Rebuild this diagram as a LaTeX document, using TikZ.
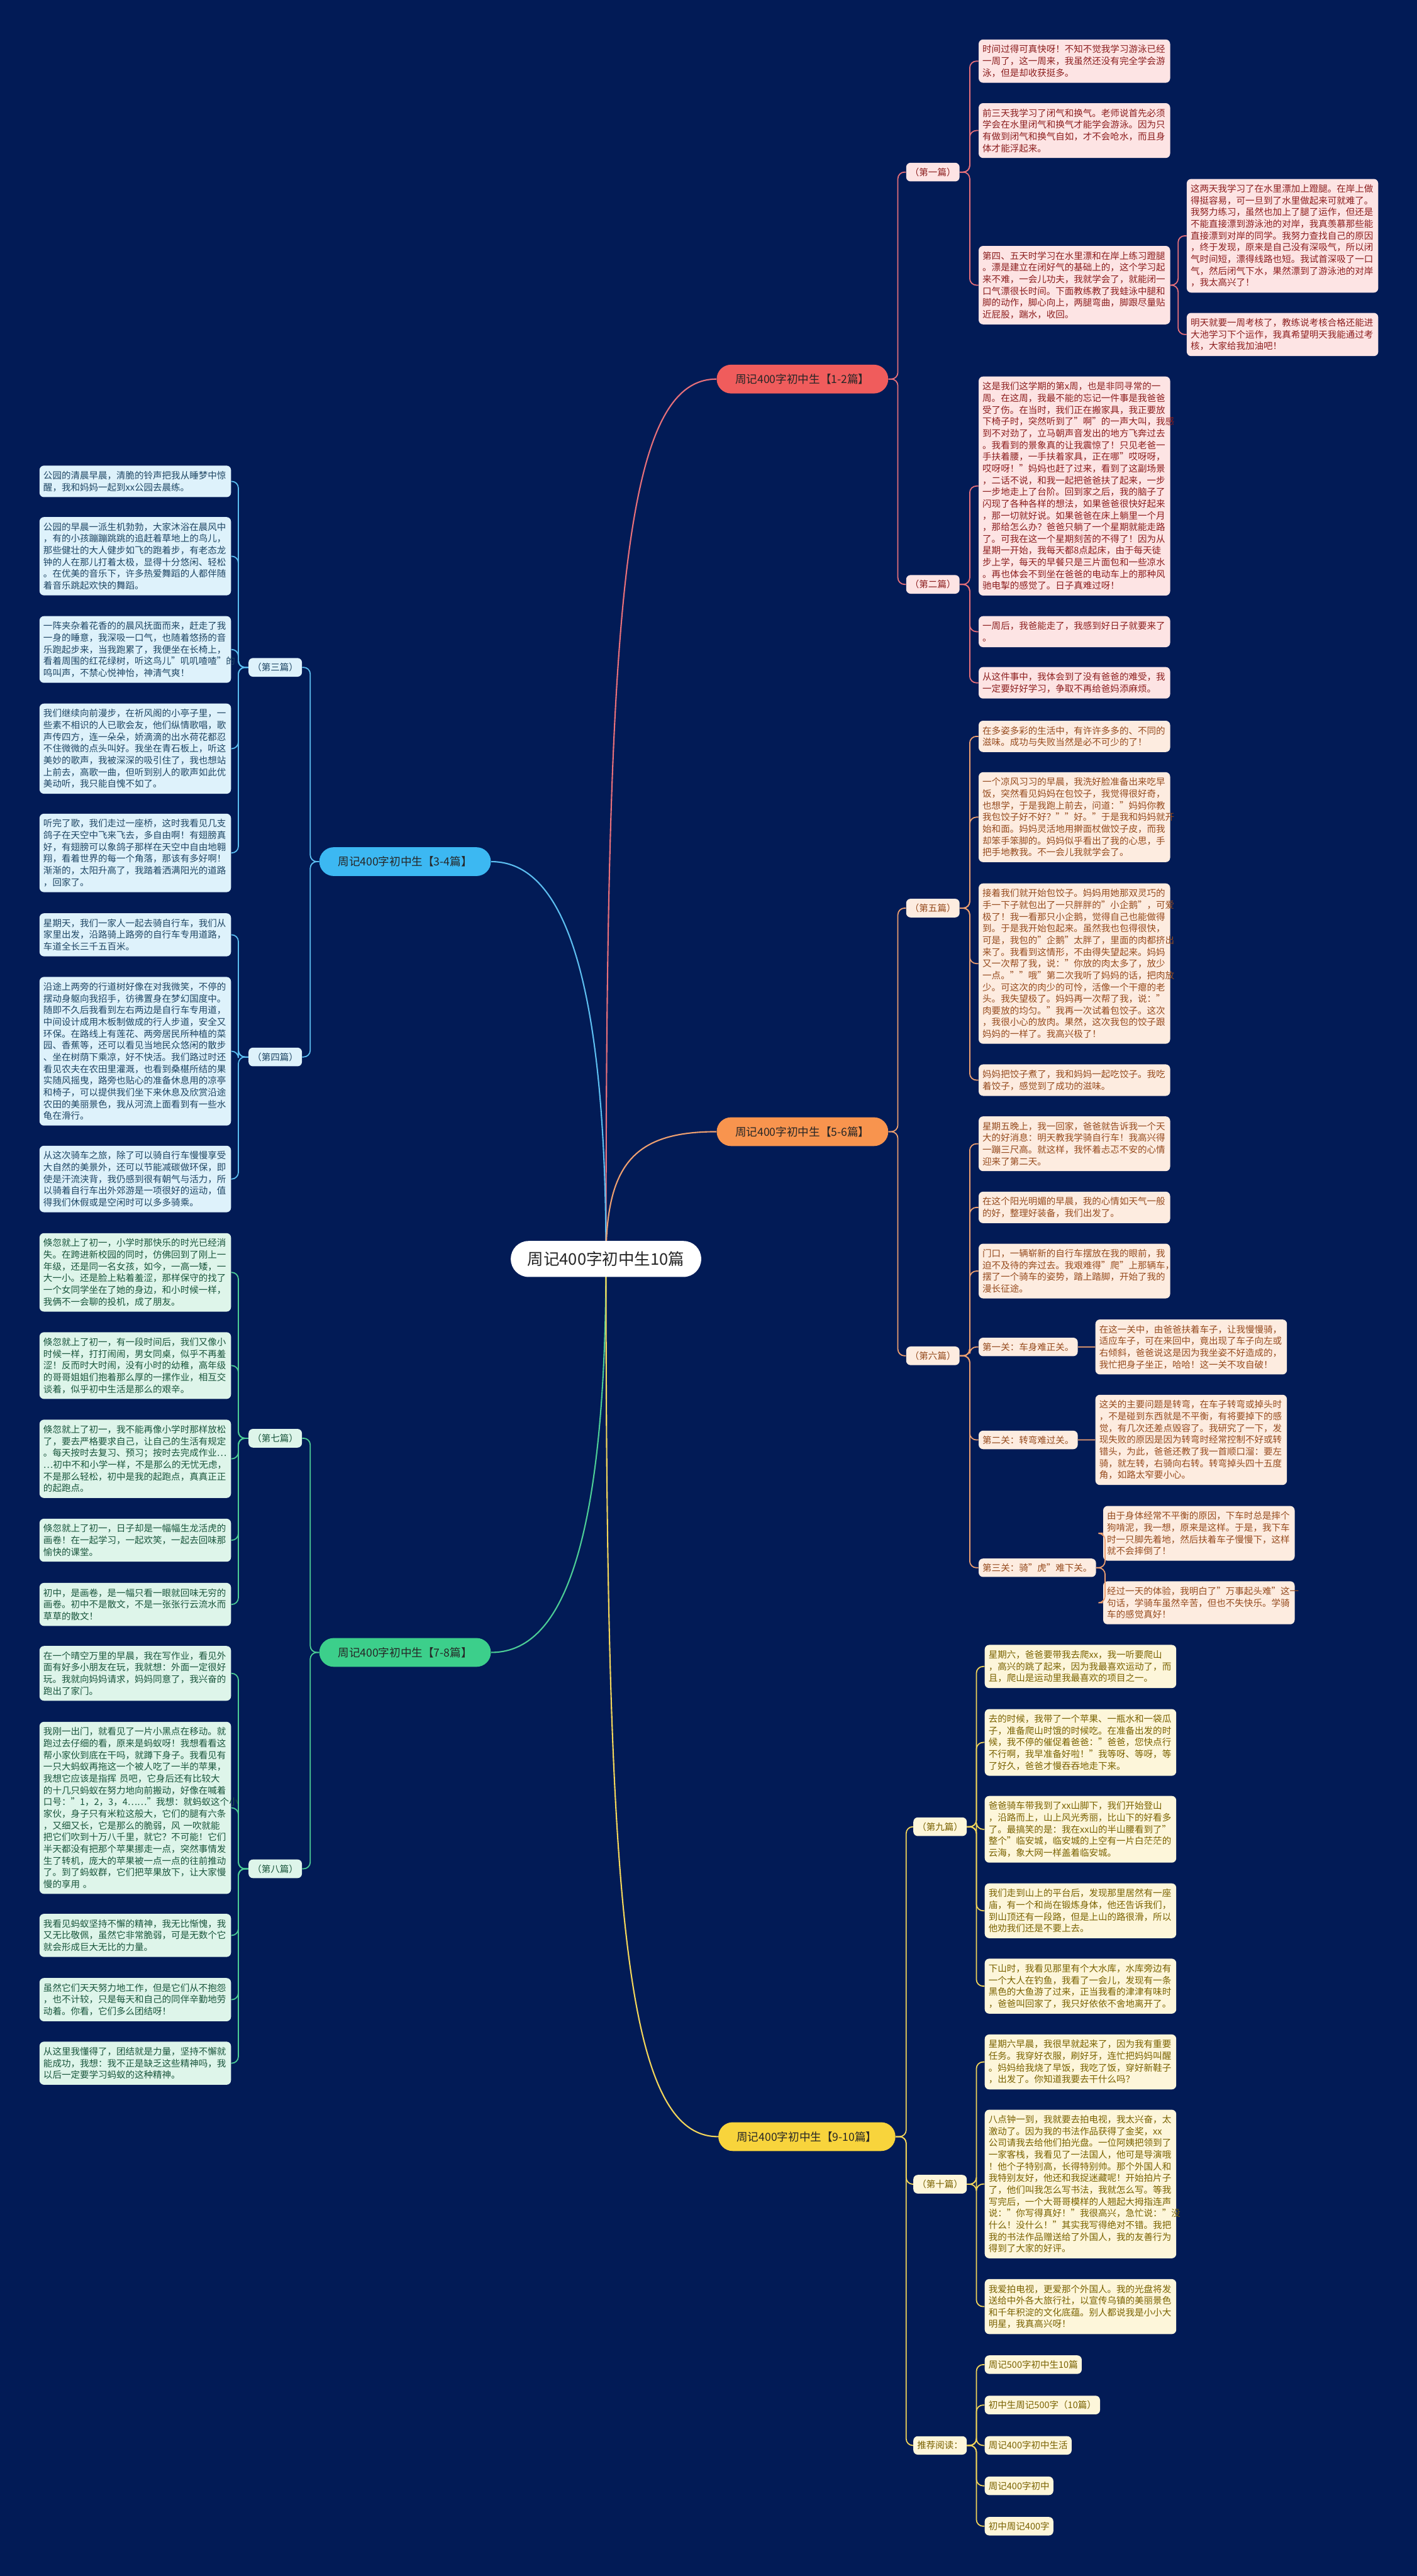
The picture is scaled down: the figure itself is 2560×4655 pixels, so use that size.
\documentclass[tikz,border=0pt]{standalone}
\usepackage{fontspec}
\setmainfont{Noto Sans CJK SC}

\definecolor{bgnavy}{RGB}{2,27,86}
% red 1-2
\definecolor{cR}{RGB}{240,92,92}
\definecolor{lR}{RGB}{232,112,122}
\definecolor{fR}{RGB}{253,228,228}
\definecolor{tR}{RGB}{140,30,30}
% orange 5-6
\definecolor{cO}{RGB}{248,148,78}
\definecolor{lO}{RGB}{238,160,112}
\definecolor{fO}{RGB}{253,236,224}
\definecolor{tO}{RGB}{150,75,30}
% yellow 9-10
\definecolor{cY}{RGB}{248,212,60}
\definecolor{lY}{RGB}{243,214,90}
\definecolor{fY}{RGB}{253,246,218}
\definecolor{tY}{RGB}{122,98,0}
% blue 3-4
\definecolor{cB}{RGB}{60,184,242}
\definecolor{lB}{RGB}{92,190,240}
\definecolor{fB}{RGB}{222,242,251}
\definecolor{tB}{RGB}{30,70,100}
% green 7-8
\definecolor{cG}{RGB}{60,207,139}
\definecolor{lG}{RGB}{76,205,150}
\definecolor{fG}{RGB}{222,245,234}
\definecolor{tG}{RGB}{25,85,60}

\begin{document}
\begin{tikzpicture}[x=0.5pt,y=-0.5pt,
    note/.style={rounded corners=4pt, inner xsep=3.5pt, inner ysep=5pt, align=left, anchor=north west,
        font=\fontsize{8.25}{10.6}\selectfont},
    notew/.style={note, text width=166pt},
    sec/.style={rounded corners=4pt, inner xsep=3.5pt, inner ysep=4.5pt, font=\fontsize{8.25}{10.6}\selectfont},
    branch/.style={rounded corners=13pt, minimum width=155pt, minimum height=26pt, text=black!85,
        font=\fontsize{10}{12}\selectfont},
    link/.style={line width=1pt, rounded corners=6pt},
    nR/.style={fill=fR, text=tR}, nO/.style={fill=fO, text=tO}, nY/.style={fill=fY, text=tY},
    nB/.style={fill=fB, text=tB}, nG/.style={fill=fG, text=tG}]
    \useasboundingbox (0,0) rectangle (2560,4655);
    \fill[bgnavy] (0,0) rectangle (2560,4655);
    %
    %branches
    \coordinate (rc) at (1095,2275);
    \node[branch, fill=cR] (b12) at (1450,685) {周记400字初中生【1-2篇】};
    \node[branch, fill=cB] (b34) at (732,1557) {周记400字初中生【3-4篇】};
    \node[branch, fill=cO] (b56) at (1450,2045) {周记400字初中生【5-6篇】};
    \node[branch, fill=cG] (b78) at (732,2986) {周记400字初中生【7-8篇】};
    \node[branch, fill=cY, minimum width=160pt] (b910) at (1458,3861) {周记400字初中生【9-10篇】};
    \draw[lR, line width=1.2pt] (rc) .. controls +(0,-1170) and +(-170,0) .. (b12.west);
    \draw[lB, line width=1.2pt] (rc) .. controls +(0,-600) and +(100,0) .. (b34.east);
    \draw[lO, line width=1.2pt] (rc) .. controls +(0,-170) and +(-150,0) .. (b56.west);
    \draw[lG, line width=1.2pt] (rc) .. controls +(0,600) and +(100,0) .. (b78.east);
    \draw[lY, line width=1.2pt] (rc) .. controls +(0,1170) and +(-170,0) .. (b910.west);
    %root
    \node[fill=white, rounded corners=16pt, minimum width=172pt, minimum height=32.5pt, text=black!85,
        font=\fontsize{14.5}{16}\selectfont] (root) at (rc) {周记400字初中生10篇};
    %
    %第一篇
    \node[sec, nR, anchor=west] (s1) at (1637,311) {（第一篇）};
    \node[notew, nR] (n1a) at (1768,71) {时间过得可真快呀！不知不觉我学习游泳已经\\一周了，这一周来，我虽然还没有完全学会游\\泳，但是却收获挺多。};
    \node[notew, nR] (n1b) at (1768,186) {前三天我学习了闭气和换气。老师说首先必须\\学会在水里闭气和换气才能学会游泳。因为只\\有做到闭气和换气自如，才不会呛水，而且身\\体才能浮起来。};
    \node[notew, nR] (n1c) at (1768,444) {第四、五天时学习在水里漂和在岸上练习蹬腿\\。漂是建立在闭好气的基础上的，这个学习起\\来不难，一会儿功夫，我就学会了，就能闭一\\口气漂很长时间。下面教练教了我蛙泳中腿和\\脚的动作，脚心向上，两腿弯曲，脚跟尽量贴\\近屁股，踹水，收回。};
    \node[notew, nR] (n1c1) at (2144,323) {这两天我学习了在水里漂加上蹬腿。在岸上做\\得挺容易，可一旦到了水里做起来可就难了。\\我努力练习，虽然也加上了腿了运作，但还是\\不能直接漂到游泳池的对岸，我真羡慕那些能\\直接漂到对岸的同学。我努力查找自己的原因\\，终于发现，原来是自己没有深吸气，所以闭\\气时间短，漂得线路也短。我试首深吸了一口\\气，然后闭气下水，果然漂到了游泳池的对岸\\，我太高兴了！};
    \node[notew, nR] (n1c2) at (2144,565) {明天就要一周考核了，教练说考核合格还能进\\大池学习下个运作，我真希望明天我能通过考\\核，大家给我加油吧！};
    %第二篇
    \node[sec, nR, anchor=west] (s2) at (1637,1056) {（第二篇）};
    \node[notew, nR] (n2a) at (1768,680) {这是我们这学期的第x周，也是非同寻常的一\\周。在这周，我最不能的忘记一件事是我爸爸\\受了伤。在当时，我们正在搬家具，我正要放\\下椅子时，突然听到了"啊"的一声大叫，我感\\到不对劲了，立马朝声音发出的地方飞奔过去\\。我看到的景象真的让我震惊了！只见老爸一\\手扶着腰，一手扶着家具，正在哪"哎呀呀，\\哎呀呀！"妈妈也赶了过来，看到了这副场景\\，二话不说，和我一起把爸爸扶了起来，一步\\一步地走上了台阶。回到家之后，我的脑子了\\闪现了各种各样的想法，如果爸爸很快好起来\\，那一切就好说。如果爸爸在床上躺里一个月\\，那给怎么办？爸爸只躺了一个星期就能走路\\了。可我在这一个星期刻苦的不得了！因为从\\星期一开始，我每天都8点起床，由于每天徒\\步上学，每天的早餐只是三片面包和一些凉水\\。再也体会不到坐在爸爸的电动车上的那种风\\驰电掣的感觉了。日子真难过呀！};
    \node[notew, nR] (n2b) at (1768,1113) {一周后，我爸能走了，我感到好日子就要来了\\。};
    \node[notew, nR] (n2c) at (1768,1205) {从这件事中，我体会到了没有爸爸的难受，我\\一定要好好学习，争取不再给爸妈添麻烦。};
    \draw[link, lR] (b12.east) -- ++(17,0) |- (s1.west);
    \draw[link, lR] (b12.east) -- ++(17,0) |- (s2.west);
    \foreach \c in {n1a,n1b,n1c} \draw[link, lR] (s1.east) -- ++(18,0) |- (\c.west);
    \foreach \c in {n1c1,n1c2} \draw[link, lR] (n1c.east) -- ++(14,0) |- (\c.west);
    \foreach \c in {n2a,n2b,n2c} \draw[link, lR] (s2.east) -- ++(18,0) |- (\c.west);
    %
    %第五篇
    \node[sec, nO, anchor=west] (s5) at (1637,1641) {（第五篇）};
    \node[notew, nO] (n5a) at (1768,1302) {在多姿多彩的生活中，有许许多多的、不同的\\滋味。成功与失败当然是必不可少的了！};
    \node[notew, nO] (n5b) at (1768,1395) {一个凉风习习的早晨，我洗好脸准备出来吃早\\饭，突然看见妈妈在包饺子，我觉得很好奇，\\也想学，于是我跑上前去，问道："妈妈你教\\我包饺子好不好？""好。"于是我和妈妈就开\\始和面。妈妈灵活地用擀面杖做饺子皮，而我\\却笨手笨脚的。妈妈似乎看出了我的心思，手\\把手地教我。不一会儿我就学会了。};
    \node[notew, nO] (n5c) at (1768,1596) {接着我们就开始包饺子。妈妈用她那双灵巧的\\手一下子就包出了一只胖胖的"小企鹅"，可爱\\极了！我一看那只小企鹅，觉得自己也能做得\\到。于是我开始包起来。虽然我也包得很快，\\可是，我包的"企鹅"太胖了，里面的肉都挤出\\来了。我看到这情形，不由得失望起来。妈妈\\又一次帮了我，说："你放的肉太多了，放少\\一点。""哦"第二次我听了妈妈的话，把肉放\\少。可这次的肉少的可怜，活像一个干瘪的老\\头。我失望极了。妈妈再一次帮了我，说："\\肉要放的均匀。"我再一次试着包饺子。这次\\，我很小心的放肉。果然，这次我包的饺子跟\\妈妈的一样了。我高兴极了！};
    \node[notew, nO] (n5d) at (1768,1923) {妈妈把饺子煮了，我和妈妈一起吃饺子。我吃\\着饺子，感觉到了成功的滋味。};
    %第六篇
    \node[sec, nO, anchor=west] (s6) at (1637,2450) {（第六篇）};
    \node[notew, nO] (n6a) at (1768,2017) {星期五晚上，我一回家，爸爸就告诉我一个天\\大的好消息：明天教我学骑自行车！我高兴得\\一蹦三尺高。就这样，我怀着忐忑不安的心情\\迎来了第二天。};
    \node[notew, nO] (n6b) at (1768,2153) {在这个阳光明媚的早晨，我的心情如天气一般\\的好，整理好装备，我们出发了。};
    \node[notew, nO] (n6c) at (1768,2247) {门口，一辆崭新的自行车摆放在我的眼前，我\\迫不及待的奔过去。我艰难得"爬"上那辆车，\\摆了一个骑车的姿势，踏上踏脚，开始了我的\\漫长征途。};
    \node[sec, nO, anchor=west] (n6d) at (1768,2434) {第一关：车身难正关。};
    \node[notew, nO] (n6d1) at (1979,2384) {在这一关中，由爸爸扶着车子，让我慢慢骑，\\适应车子，可在来回中，竟出现了车子向左或\\右倾斜，爸爸说这是因为我坐姿不好造成的，\\我忙把身子坐正，哈哈！这一关不攻自破！};
    \node[sec, nO, anchor=west] (n6e) at (1768,2602) {第二关：转弯难过关。};
    \node[notew, nO] (n6e1) at (1979,2520) {这关的主要问题是转弯，在车子转弯或掉头时\\，不是碰到东西就是不平衡，有将要掉下的感\\觉，有几次还差点毁容了。我研究了一下，发\\现失败的原因是因为转弯时经常控制不好或转\\错头，为此，爸爸还教了我一首顺口溜：要左\\骑，就左转，右骑向右转。转弯掉头四十五度\\角，如路太窄要小心。};
    \node[sec, nO, anchor=west] (n6f) at (1768,2833) {第三关：骑"虎"难下关。};
    \node[notew, nO] (n6f1) at (1993,2721) {由于身体经常不平衡的原因，下车时总是摔个\\狗啃泥，我一想，原来是这样。于是，我下车\\时一只脚先着地，然后扶着车子慢慢下，这样\\就不会摔倒了！};
    \node[notew, nO] (n6f2) at (1993,2857) {经过一天的体验，我明白了"万事起头难"这一\\句话，学骑车虽然辛苦，但也不失快乐。学骑\\车的感觉真好！};
    \draw[link, lO] (b56.east) -- ++(17,0) |- (s5.west);
    \draw[link, lO] (b56.east) -- ++(17,0) |- (s6.west);
    \foreach \c in {n5a,n5b,n5c,n5d} \draw[link, lO] (s5.east) -- ++(18,0) |- (\c.west);
    \foreach \c in {n6a,n6b,n6c,n6d,n6e,n6f} \draw[link, lO] (s6.east) -- ++(18,0) |- (\c.west);
    \draw[link, lO] (n6d.east) -- (n6d1.west);
    \draw[link, lO] (n6e.east) -- (n6e1.west);
    \foreach \c in {n6f1,n6f2} \draw[link, lO] (n6f.east) -- ++(16,0) |- (\c.west);
    %
    %第九篇
    \node[sec, nY, anchor=west] (s9) at (1650,3301) {（第九篇）};
    \node[notew, nY] (n9a) at (1779,2972) {星期六，爸爸要带我去爬xx，我一听要爬山\\，高兴的跳了起来，因为我最喜欢运动了，而\\且，爬山是运动里我最喜欢的项目之一。};
    \node[notew, nY] (n9b) at (1779,3088) {去的时候，我带了一个苹果、一瓶水和一袋瓜\\子，准备爬山时饿的时候吃。在准备出发的时\\候，我不停的催促着爸爸："爸爸，您快点行\\不行啊，我早准备好啦！"我等呀、等呀，等\\了好久，爸爸才慢吞吞地走下来。};
    \node[notew, nY] (n9c) at (1779,3245) {爸爸骑车带我到了xx山脚下，我们开始登山\\，沿路而上，山上风光秀丽，比山下的好看多\\了。最搞笑的是：我在xx山的半山腰看到了"\\整个"临安城，临安城的上空有一片白茫茫的\\云海，象大网一样盖着临安城。};
    \node[notew, nY] (n9d) at (1779,3403) {我们走到山上的平台后，发现那里居然有一座\\庙，有一个和尚在锻炼身体，他还告诉我们，\\到山顶还有一段路，但是上山的路很滑，所以\\他劝我们还是不要上去。};
    \node[notew, nY] (n9e) at (1779,3539) {下山时，我看见那里有个大水库，水库旁边有\\一个大人在钓鱼，我看了一会儿，发现有一条\\黑色的大鱼游了过来，正当我看的津津有味时\\，爸爸叫回家了，我只好依依不舍地离开了。};
    %第十篇
    \node[sec, nY, anchor=west] (s10) at (1650,3947) {（第十篇）};
    \node[notew, nY] (n10a) at (1779,3676) {星期六早晨，我很早就起来了，因为我有重要\\任务。我穿好衣服，刷好牙，连忙把妈妈叫醒\\。妈妈给我烧了早饭，我吃了饭，穿好新鞋子\\，出发了。你知道我要去干什么吗？};
    \node[notew, nY] (n10b) at (1779,3812) {八点钟一到，我就要去拍电视，我太兴奋，太\\激动了。因为我的书法作品获得了金奖，xx\\公司请我去给他们拍光盘。一位阿姨把领到了\\一家客栈，我看见了一法国人，他可是导演哦\\！他个子特别高，长得特别帅。那个外国人和\\我特别友好，他还和我捉迷藏呢！开始拍片子\\了，他们叫我怎么写书法，我就怎么写。等我\\写完后，一个大哥哥模样的人翘起大拇指连声\\说："你写得真好！"我很高兴，急忙说："没\\什么！没什么！"其实我写得绝对不错。我把\\我的书法作品赠送给了外国人，我的友善行为\\得到了大家的好评。};
    \node[notew, nY] (n10c) at (1779,4118) {我爱拍电视，更爱那个外国人。我的光盘将发\\送给中外各大旅行社，以宣传乌镇的美丽景色\\和千年积淀的文化底蕴。别人都说我是小小大\\明星，我真高兴呀！};
    %推荐阅读
    \node[sec, nY, anchor=west] (sr) at (1650,4419) {推荐阅读：};
    \foreach \t [count=\i] in {周记500字初中生10篇, 初中生周记500字（10篇）, 周记400字初中生活, 周记400字初中, 初中周记400字} {
        \node[sec, nY, anchor=west] (r\i) at (1779,{4273+73*(\i-1)}) {\t};
        \draw[link, lY] (sr.east) -- ++(17,0) |- (r\i.west);
    }
    \draw[link, lY] (b910.east) -- ++(19,0) |- (s9.west);
    \draw[link, lY] (b910.east) -- ++(19,0) |- (s10.west);
    \draw[link, lY] (b910.east) -- ++(19,0) |- (sr.west);
    \foreach \c in {n9a,n9b,n9c,n9d,n9e} \draw[link, lY] (s9.east) -- ++(17,0) |- (\c.west);
    \foreach \c in {n10a,n10b,n10c} \draw[link, lY] (s10.east) -- ++(17,0) |- (\c.west);
    %
    %第三篇
    \node[sec, nB, anchor=east] (s3) at (546,1206) {（第三篇）};
    \node[notew, nB] (L3a) at (71,841) {公园的清晨早晨，清脆的铃声把我从睡梦中惊\\醒，我和妈妈一起到xx公园去晨练。};
    \node[notew, nB] (L3b) at (71,934) {公园的早晨一派生机勃勃，大家沐浴在晨风中\\，有的小孩蹦蹦跳跳的追赶着草地上的鸟儿，\\那些健壮的大人健步如飞的跑着步，有老态龙\\钟的人在那儿打着太极，显得十分悠闲、轻松\\。在优美的音乐下，许多热爱舞蹈的人都伴随\\着音乐跳起欢快的舞蹈。};
    \node[notew, nB] (L3c) at (71,1113) {一阵夹杂着花香的的晨风抚面而来，赶走了我\\一身的睡意，我深吸一口气，也随着悠扬的音\\乐跑起步来，当我跑累了，我便坐在长椅上，\\看着周围的红花绿树，听这鸟儿"叽叽喳喳"的\\鸣叫声，不禁心悦神怡，神清气爽！};
    \node[notew, nB] (L3d) at (71,1271) {我们继续向前漫步，在祈风阁的小亭子里，一\\些素不相识的人已歌会友，他们纵情歌唱，歌\\声传四方，连一朵朵，娇滴滴的出水荷花都忍\\不住微微的点头叫好。我坐在青石板上，听这\\美妙的歌声，我被深深的吸引住了，我也想站\\上前去，高歌一曲，但听到别人的歌声如此优\\美动听，我只能自愧不如了。};
    \node[notew, nB] (L3e) at (71,1470) {听完了歌，我们走过一座桥，这时我看见几支\\鸽子在天空中飞来飞去，多自由啊！有翅膀真\\好，有翅膀可以象鸽子那样在天空中自由地翱\\翔，看着世界的每一个角落，那该有多好啊！\\渐渐的，太阳升高了，我踏着洒满阳光的道路\\，回家了。};
    %第四篇
    \node[sec, nB, anchor=east] (s4) at (546,1910) {（第四篇）};
    \node[notew, nB] (L4a) at (71,1650) {星期天，我们一家人一起去骑自行车，我们从\\家里出发，沿路骑上路旁的自行车专用道路，\\车道全长三千五百米。};
    \node[notew, nB] (L4b) at (71,1765) {沿途上两旁的行道树好像在对我微笑，不停的\\摆动身躯向我招手，彷彿置身在梦幻国度中。\\随即不久后我看到左右两边是自行车专用道，\\中间设计成用木板制做成的行人步道，安全又\\环保。在路线上有莲花、两旁居民所种植的菜\\园、香蕉等，还可以看见当地民众悠闲的散步\\、坐在树荫下乘凉，好不快活。我们路过时还\\看见农夫在农田里灌溉，也看到桑椹所结的果\\实随风摇曳，路旁也贴心的准备休息用的凉亭\\和椅子，可以提供我们坐下来休息及欣赏沿途\\农田的美丽景色，我从河流上面看到有一些水\\龟在滑行。};
    \node[notew, nB] (L4c) at (71,2070) {从这次骑车之旅，除了可以骑自行车慢慢享受\\大自然的美景外，还可以节能减碳做环保，即\\使是汗流浃背，我仍感到很有朝气与活力，所\\以骑着自行车出外郊游是一项很好的运动，值\\得我们休假或是空闲时可以多多骑乘。};
    \draw[link, lB] (b34.west) -- ++(-16,0) |- (s3.east);
    \draw[link, lB] (b34.west) -- ++(-16,0) |- (s4.east);
    \foreach \c in {L3a,L3b,L3c,L3d,L3e} \draw[link, lB] (s3.west) -- ++(-18,0) |- (\c.east);
    \foreach \c in {L4a,L4b,L4c} \draw[link, lB] (s4.west) -- ++(-18,0) |- (\c.east);
    %
    %第七篇
    \node[sec, nG, anchor=east] (s7) at (546,2599) {（第七篇）};
    \node[notew, nG] (L7a) at (71,2228) {倏忽就上了初一，小学时那快乐的时光已经消\\失。在跨进新校园的同时，仿佛回到了刚上一\\年级，还是同一名女孩，如今，一高一矮，一\\大一小。还是脸上粘着羞涩，那样保守的找了\\一个女同学坐在了她的身边，和小时候一样，\\我俩不一会聊的投机，成了朋友。};
    \node[notew, nG] (L7b) at (71,2407) {倏忽就上了初一，有一段时间后，我们又像小\\时候一样，打打闹闹，男女同桌，似乎不再羞\\涩！反而时大时闹，没有小时的幼稚，高年级\\的哥哥姐姐们抱着那么厚的一摞作业，相互交\\谈着，似乎初中生活是那么的艰辛。};
    \node[notew, nG] (L7c) at (71,2565) {倏忽就上了初一，我不能再像小学时那样放松\\了，要去严格要求自己，让自己的生活有规定\\。每天按时去复习、预习；按时去完成作业…\\…初中不和小学一样，不是那么的无忧无虑，\\不是那么轻松，初中是我的起跑点，真真正正\\的起跑点。};
    \node[notew, nG] (L7d) at (71,2744) {倏忽就上了初一，日子却是一幅幅生龙活虎的\\画卷！在一起学习，一起欢笑，一起去回味那\\愉快的课堂。};
    \node[notew, nG] (L7e) at (71,2860) {初中，是画卷，是一幅只看一眼就回味无穷的\\画卷。初中不是散文，不是一张张行云流水而\\草草的散文！};
    %第八篇
    \node[sec, nG, anchor=east] (s8) at (546,3377) {（第八篇）};
    \node[notew, nG] (L8a) at (71,2974) {在一个晴空万里的早晨，我在写作业，看见外\\面有好多小朋友在玩，我就想：外面一定很好\\玩。我就向妈妈请求，妈妈同意了，我兴奋的\\跑出了家门。};
    \node[notew, nG] (L8b) at (71,3111) {我刚一出门，就看见了一片小黑点在移动。就\\跑过去仔细的看，原来是蚂蚁呀！我想看看这\\帮小家伙到底在干吗，就蹲下身子。我看见有\\一只大蚂蚁再拖这一个被人吃了一半的苹果，\\我想它应该是指挥 员吧，它身后还有比较大\\的十几只蚂蚁在努力地向前搬动，好像在喊着\\口号："1，2，3，4……"我想：就蚂蚁这个小\\家伙，身子只有米粒这般大，它们的腿有六条\\，又细又长，它是那么的脆弱，风 一吹就能\\把它们吹到十万八千里，就它？不可能！它们\\半天都没有把那个苹果挪走一点，突然事情发\\生了转机，庞大的苹果被一点一点的往前推动\\了。到了蚂蚁群，它们把苹果放下，让大家慢\\慢的享用 。};
    \node[notew, nG] (L8c) at (71,3458) {我看见蚂蚁坚持不懈的精神，我无比惭愧，我\\又无比敬佩，虽然它非常脆弱，可是无数个它\\就会形成巨大无比的力量。};
    \node[notew, nG] (L8d) at (71,3574) {虽然它们天天努力地工作，但是它们从不抱怨\\，也不计较，只是每天和自己的同伴辛勤地劳\\动着。你看，它们多么团结呀！};
    \node[notew, nG] (L8e) at (71,3689) {从这里我懂得了，团结就是力量，坚持不懈就\\能成功，我想：我不正是缺乏这些精神吗，我\\以后一定要学习蚂蚁的这种精神。};
    \draw[link, lG] (b78.west) -- ++(-16,0) |- (s7.east);
    \draw[link, lG] (b78.west) -- ++(-16,0) |- (s8.east);
    \foreach \c in {L7a,L7b,L7c,L7d,L7e} \draw[link, lG] (s7.west) -- ++(-18,0) |- (\c.east);
    \foreach \c in {L8a,L8b,L8c,L8d,L8e} \draw[link, lG] (s8.west) -- ++(-18,0) |- (\c.east);
    %
\end{tikzpicture}
\end{document}
